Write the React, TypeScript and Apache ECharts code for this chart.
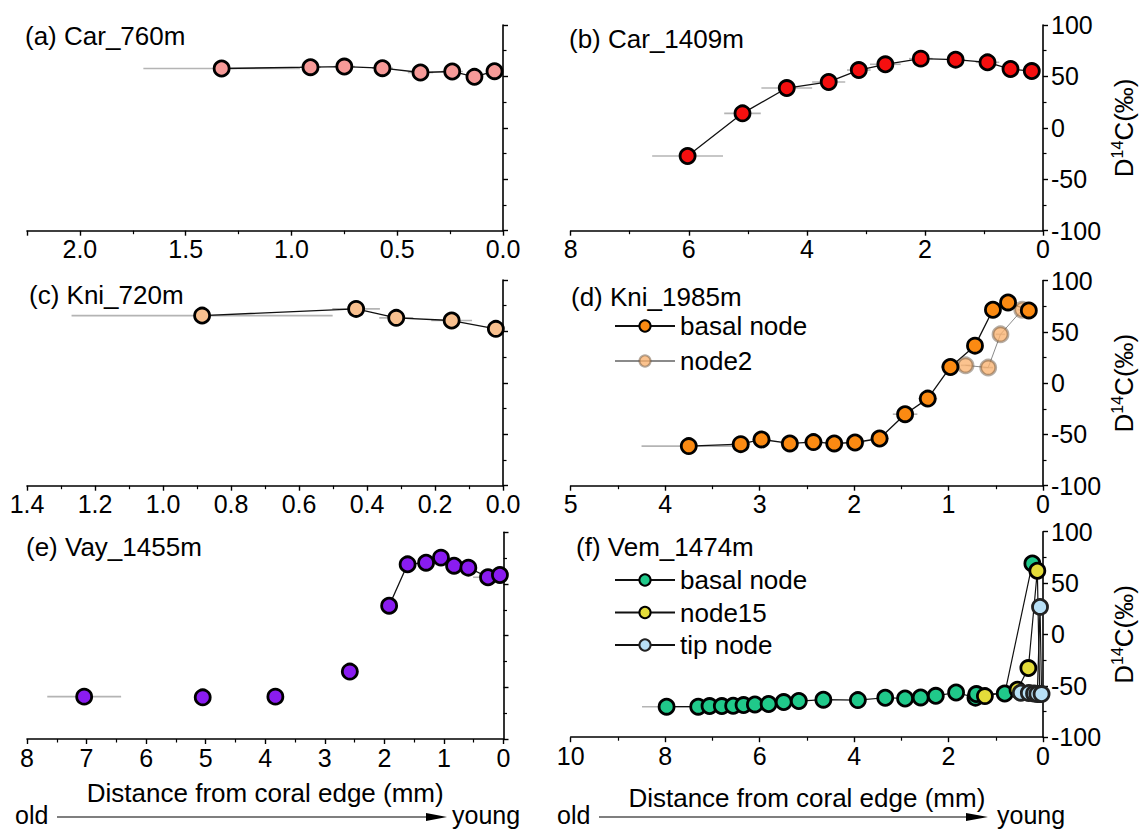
import React, { useEffect, useRef } from 'react';
import * as echarts from 'echarts';

const FONT = '"Liberation Sans", Arial, Helvetica, sans-serif';

// ---- (a) Car_760m ----
const car760Dist = [1.33, 0.91, 0.75, 0.57, 0.39, 0.24, 0.135, 0.04];
const car760D14C = [57.7, 59.0, 59.6, 58.0, 53.8, 54.8, 49.6, 55.1];
const car760Err = [0.37, 0.05, 0.05, 0.05, 0.06, 0.05, 0.04, 0.03];

// ---- (b) Car_1409m ----
const car1409Dist = [6.02, 5.09, 4.34, 3.63, 3.12, 2.67, 2.07, 1.48, 0.94, 0.55, 0.19];
const car1409D14C = [-27.4, 14.1, 38.7, 44.6, 56.2, 61.8, 67.3, 66.3, 63.7, 57.2, 55.2];
const car1409Err = [0.6, 0.31, 0.43, 0.28, 0.2, 0.26, 0.2, 0.15, 0.2, 0.1, 0.1];

// ---- (c) Kni_720m ----
const kni720Dist = [0.885, 0.432, 0.314, 0.151, 0.021];
const kni720D14C = [65.4, 71.9, 63.2, 60.6, 52.5];
const kni720Err = [0.384, 0.07, 0.05, 0.06, 0.02];

// ---- (d) Kni_1985m ----
const kni1985BasalDist = [3.75, 3.2, 2.98, 2.68, 2.43, 2.21, 1.99, 1.73, 1.46, 1.22, 0.98, 0.72, 0.53, 0.37, 0.15];
const kni1985BasalD14C = [-61.4, -59.5, -54.9, -58.8, -57.5, -58.8, -57.9, -54.0, -30.3, -15.1, 15.7, 36.5, 71.5, 78.6, 70.8];
const kni1985BasalErr = [0.5, 0.1, 0.1, 0.1, 0.1, 0.1, 0.1, 0.1, 0.13, 0.1, 0.1, 0.08, 0.06, 0.05, 0.05];
const kni1985Node2Dist = [0.82, 0.58, 0.45, 0.22];
const kni1985Node2D14C = [17.3, 15.1, 47.5, 71.5];
const kni1985Node2Err = [0.05, 0.05, 0.05, 0.05];

// ---- (e) Vay_1455m ----
const vayIsolatedDist = [7.04, 5.05, 3.83, 2.58];
const vayIsolatedD14C = [-59.0, -59.7, -59.0, -34.8];
const vayIsolatedErr = [0.62, 0.1, 0.08, 0.15];
const vayLinkedDist = [1.92, 1.61, 1.3, 1.05, 0.83, 0.59, 0.26, 0.06];
const vayLinkedD14C = [29.0, 69.0, 70.6, 75.5, 67.7, 65.8, 56.5, 58.7];
const vayLinkedErr = [0.05, 0.05, 0.05, 0.05, 0.05, 0.05, 0.25, 0.05];

// ---- (f) Vem_1474m ----
const vemBasalDist = [7.97, 7.3, 7.06, 6.8, 6.56, 6.34, 6.1, 5.81, 5.49, 5.17, 4.65, 3.92, 3.34, 2.92, 2.59, 2.27, 1.84, 1.43, 1.41, 0.81, 0.225];
const vemBasalD14C = [-70.3, -70.3, -69.7, -69.7, -69.4, -68.7, -68.1, -67.7, -65.8, -64.8, -63.5, -63.9, -61.6, -62.3, -61.3, -59.7, -56.5, -61.5, -58.0, -57.5, 69.1];
const vemBasalErr = [0.52, 0.05, 0.05, 0.05, 0.05, 0.05, 0.05, 0.05, 0.05, 0.05, 0.05, 0.05, 0.05, 0.05, 0.05, 0.05, 0.05, 0.05, 0.05, 0.05, 0.03];
const vemNode15Dist = [1.23, 0.54, 0.31, 0.12, 0.07];
const vemNode15D14C = [-60.0, -53.8, -32.7, 62.0, -58.0];
const vemNode15Err = [0.05, 0.04, 0.03, 0.03, 0.02];
const vemTipDist = [0.47, 0.3, 0.19, 0.12, 0.063, 0.03];
const vemTipD14C = [-56.7, -57.0, -57.5, -58.0, 26.8, -58.0];
const vemTipErr = [0.04, 0.03, 0.03, 0.02, 0.02, 0.02];

type Track = {
  name: string;
  x: number[];
  y: number[];
  err: number[];
  fill: string;
  border: string;
  line: string;
  lineWidth: number;
  connect: boolean;
};

type Panel = {
  label: string;
  xMax: number;
  xStep: number;
  decimals: number;
  yLabels: boolean;
  box: [number, number, number, number];
  titleAt: [number, number];
  tracks: Track[];
  legendAt?: [number, number, number];
  xNameGap?: number;
};

const BLACK_RIM = '#000';

const panels: Panel[] = [
  {
    label: '(a) Car_760m', xMax: 2.25, xStep: 0.5, decimals: 1, yLabels: false,
    box: [27, 25, 476, 205.7], titleAt: [25, 23],
    tracks: [{ name: 'Car_760m|basal node', x: car760Dist, y: car760D14C, err: car760Err, fill: '#f69a98', border: BLACK_RIM, line: '#111', lineWidth: 1.3, connect: true }],
  },
  {
    label: '(b) Car_1409m', xMax: 8, xStep: 2, decimals: 0, yLabels: true,
    box: [570.7, 25, 476.3, 205.7], titleAt: [569, 26],
    tracks: [{ name: 'Car_1409m|basal node', x: car1409Dist, y: car1409D14C, err: car1409Err, fill: '#f50f0f', border: BLACK_RIM, line: '#111', lineWidth: 1.3, connect: true }],
  },
  {
    label: '(c) Kni_720m', xMax: 1.4, xStep: 0.2, decimals: 1, yLabels: false,
    box: [27, 280, 476, 205.7], titleAt: [29, 282],
    tracks: [{ name: 'Kni_720m|basal node', x: kni720Dist, y: kni720D14C, err: kni720Err, fill: '#f8c08f', border: BLACK_RIM, line: '#111', lineWidth: 1.3, connect: true }],
  },
  {
    label: '(d) Kni_1985m', xMax: 5, xStep: 1, decimals: 0, yLabels: true,
    box: [570.7, 280.5, 476.3, 205.2], titleAt: [571, 284],
    legendAt: [614, 313, 9],
    tracks: [
      { name: 'Kni_1985m|node2', x: kni1985Node2Dist, y: kni1985Node2D14C, err: kni1985Node2Err, fill: 'rgba(250,178,112,0.78)', border: 'rgba(90,70,50,0.45)', line: '#8a8a8a', lineWidth: 1, connect: true },
      { name: 'Kni_1985m|basal node', x: kni1985BasalDist, y: kni1985BasalD14C, err: kni1985BasalErr, fill: '#fb8a12', border: BLACK_RIM, line: '#111', lineWidth: 1.3, connect: true },
    ],
  },
  {
    label: '(e) Vay_1455m', xMax: 8, xStep: 1, decimals: 0, yLabels: false,
    box: [27, 532.3, 476.5, 206.7], titleAt: [26, 534],
    xNameGap: 41,
    tracks: [
      { name: 'Vay_1455m|isolated', x: vayIsolatedDist, y: vayIsolatedD14C, err: vayIsolatedErr, fill: '#8a1cf0', border: BLACK_RIM, line: '#111', lineWidth: 1.3, connect: false },
      { name: 'Vay_1455m|basal node', x: vayLinkedDist, y: vayLinkedD14C, err: vayLinkedErr, fill: '#8a1cf0', border: BLACK_RIM, line: '#111', lineWidth: 1.3, connect: true },
    ],
  },
  {
    label: '(f) Vem_1474m', xMax: 10, xStep: 2, decimals: 0, yLabels: true,
    box: [570.7, 531.7, 476.3, 205.5], titleAt: [576, 534],
    legendAt: [614, 567, 6.5],
    xNameGap: 48,
    tracks: [
      { name: 'Vem_1474m|basal node', x: vemBasalDist, y: vemBasalD14C, err: vemBasalErr, fill: '#20c98a', border: BLACK_RIM, line: '#111', lineWidth: 1.2, connect: true },
      { name: 'Vem_1474m|node15', x: vemNode15Dist, y: vemNode15D14C, err: vemNode15Err, fill: '#e4dc3a', border: BLACK_RIM, line: '#111', lineWidth: 1.2, connect: true },
      { name: 'Vem_1474m|tip node', x: vemTipDist, y: vemTipD14C, err: vemTipErr, fill: '#b8e0f6', border: '#222', line: '#111', lineWidth: 1.2, connect: true },
    ],
  },
];

const legendOrder: Record<string, string[]> = {
  '(d) Kni_1985m': ['Kni_1985m|basal node', 'Kni_1985m|node2'],
  '(f) Vem_1474m': ['Vem_1474m|basal node', 'Vem_1474m|node15', 'Vem_1474m|tip node'],
};

const onStep = (v: number, step: number) => Math.abs(v / step - Math.round(v / step)) < 1e-6;

function buildOption(): any {
  const axisLineStyle = { color: '#000', width: 1.6 };
  const grid = panels.map((p) => ({ left: p.box[0], top: p.box[1], width: p.box[2], height: p.box[3] }));

  const xAxis = panels.map((p, i) => ({
    type: 'value',
    gridIndex: i,
    min: 0,
    max: p.xMax,
    interval: p.xStep,
    inverse: true,
    axisLine: { show: true, onZero: false, lineStyle: axisLineStyle },
    axisTick: { show: true, length: 5, lineStyle: { color: '#000', width: 1.4 } },
    minorTick: { show: true, splitNumber: 2, length: 3.5, lineStyle: { color: '#000', width: 1.2 } },
    splitLine: { show: false },
    axisLabel: {
      color: '#000', fontSize: 25, fontFamily: FONT, margin: 6,
      formatter: (v: number) => (onStep(v, p.xStep) ? v.toFixed(p.decimals) : ''),
    },
    name: p.xNameGap ? 'Distance from coral edge (mm)' : '',
    nameLocation: 'middle',
    nameGap: p.xNameGap || 0,
    nameTextStyle: { color: '#000', fontSize: 26, fontFamily: FONT },
  }));

  const yAxis = panels.map((p, i) => ({
    type: 'value',
    gridIndex: i,
    position: 'right',
    min: -100,
    max: 100,
    interval: 50,
    axisLine: { show: true, onZero: false, lineStyle: axisLineStyle },
    axisTick: { show: true, length: 5, lineStyle: { color: '#000', width: 1.4 } },
    minorTick: { show: true, splitNumber: 2, length: 3.5, lineStyle: { color: '#000', width: 1.2 } },
    splitLine: { show: false },
    axisLabel: { show: p.yLabels, color: '#000', fontSize: 25, fontFamily: FONT, margin: 8 },
    name: p.yLabels ? 'D{s|14}C(‰)' : '',
    nameLocation: 'middle',
    nameRotate: 90,
    nameGap: 66,
    nameTextStyle: {
      color: '#000', fontSize: 26, fontFamily: FONT, lineHeight: 30,
      rich: { s: { fontSize: 16, fontFamily: FONT, color: '#000', lineHeight: 16, verticalAlign: 'top' } },
    },
  }));

  const series: any[] = [];
  panels.forEach((p, i) => {
    p.tracks.forEach((t) => {
      series.push({
        type: 'custom',
        name: t.name + ' error',
        xAxisIndex: i,
        yAxisIndex: i,
        silent: true,
        z: 1,
        clip: false,
        data: t.x.map((v, k) => [v, t.y[k], t.err[k]]),
        encode: { x: 0, y: 1 },
        renderItem: (_params: any, api: any) => {
          const x = api.value(0);
          const y = api.value(1);
          const e = api.value(2);
          const a = api.coord([x - e, y]);
          const b = api.coord([x + e, y]);
          return {
            type: 'line',
            shape: { x1: a[0], y1: a[1], x2: b[0], y2: b[1] },
            style: { stroke: '#b4b4b4', lineWidth: 1.6 },
          };
        },
      });
      const markerStyle = { color: t.fill, borderColor: t.border, borderWidth: 2.8, opacity: 1 };
      const points = t.x.map((v, k) => [v, t.y[k]]);
      if (t.connect) {
        series.push({
          type: 'line',
          name: t.name,
          xAxisIndex: i,
          yAxisIndex: i,
          data: points,
          symbol: 'circle',
          symbolSize: 15,
          showSymbol: true,
          showAllSymbol: true,
          clip: false,
          z: 3,
          lineStyle: { color: t.line, width: t.lineWidth },
          itemStyle: markerStyle,
          emphasis: { disabled: true },
        });
      } else {
        series.push({
          type: 'scatter',
          name: t.name,
          xAxisIndex: i,
          yAxisIndex: i,
          data: points,
          symbol: 'circle',
          symbolSize: 15,
          clip: false,
          z: 3,
          itemStyle: markerStyle,
          emphasis: { disabled: true },
        });
      }
    });
  });

  const legend = panels
    .filter((p) => p.legendAt)
    .map((p) => ({
      data: legendOrder[p.label],
      orient: 'vertical',
      left: p.legendAt![0],
      top: p.legendAt![1],
      itemGap: p.legendAt![2],
      itemWidth: 60,
      itemHeight: 14,
      padding: 0,
      selectedMode: false,
      formatter: (name: string) => name.split('|')[1],
      textStyle: { color: '#000', fontSize: 26, fontFamily: FONT, lineHeight: 26 },
    }));

  const title = panels.map((p) => ({
    text: p.label,
    left: p.titleAt[0],
    top: p.titleAt[1],
    padding: 0,
    textStyle: { color: '#000', fontSize: 26, fontWeight: 'normal', fontFamily: FONT },
  }));

  // "old -> young" arrows under the bottom row
  const arrow = (oldX: number, lineEnd: number, tipX: number, youngX: number, y: number) => [
    { type: 'text', x: oldX, y, style: { text: 'old', fontSize: 25, fontFamily: FONT, fill: '#000', align: 'left', verticalAlign: 'middle' } },
    { type: 'line', shape: { x1: oldX + 42, y1: y + 2, x2: lineEnd, y2: y + 2 }, style: { stroke: '#555', lineWidth: 1.5 } },
    { type: 'polygon', shape: { points: [[lineEnd - 2, y - 2], [tipX, y + 2], [lineEnd - 2, y + 6]] }, style: { fill: '#000' } },
    { type: 'text', x: youngX, y, style: { text: 'young', fontSize: 25, fontFamily: FONT, fill: '#000', align: 'left', verticalAlign: 'middle' } },
  ];

  return {
    animation: false,
    backgroundColor: '#fff',
    title,
    legend,
    grid,
    xAxis,
    yAxis,
    series,
    graphic: [...arrow(15, 428, 447, 452, 815), ...arrow(557, 968, 988, 997, 815)],
  };
}

export default function App() {
  const ref = useRef<HTMLDivElement>(null);
  useEffect(() => {
    if (!ref.current) return;
    const chart = echarts.init(ref.current, undefined, { renderer: 'svg' });
    chart.setOption(buildOption());
    return () => chart.dispose();
  }, []);
  return (
    <div
      ref={ref}
      style={{ position: 'fixed', left: 0, top: 0, width: 1140, height: 832, background: '#fff' }}
    />
  );
}
